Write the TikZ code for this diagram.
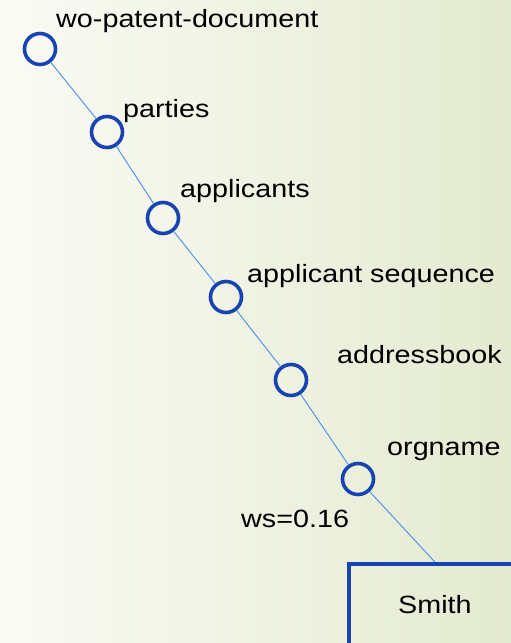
\documentclass[tikz,border=0pt]{standalone}
\usepackage{fontspec}
\setmainfont{Liberation Sans}[FakeStretch=1.15]
\definecolor{bgL}{RGB}{250,251,245}
\definecolor{bgR}{RGB}{228,234,208}
\definecolor{ringblue}{RGB}{24,68,178}
\definecolor{linkblue}{RGB}{72,140,238}
\tikzset{
  ring/.style={circle, draw=ringblue, line width=3.6pt, minimum size=31pt, inner sep=0pt},
  lbl/.style={anchor=west, inner sep=0pt, font=\fontsize{25}{28}\selectfont},
  link/.style={draw=linkblue, line width=0.9pt},
  leafbox/.style={draw=ringblue, line width=3.8pt, anchor=north west,
    minimum width=172pt, minimum height=84pt, inner sep=0pt,
    font=\fontsize{25}{28}\selectfont}
}
\begin{document}
\begin{tikzpicture}[x=1pt, y=-1pt]
  \useasboundingbox (0,0) rectangle (511,643);
  \shade[left color=bgL, right color=bgR] (0,0) rectangle (511,643);

  % chain of element nodes
  \node[ring] (n1) at (40,49) {};
  \node[ring] (n2) at (107,132) {};
  \node[ring] (n3) at (163,218) {};
  \node[ring] (n4) at (226,297) {};
  \node[ring] (n5) at (291,380) {};
  \node[ring] (n6) at (358,479) {};

  % element names
  \node[lbl] (t1) at (56,21) {wo-patent-document};
  \node[lbl] (t2) at (123,111) {parties};
  \node[lbl] (t3) at (180,191) {applicants};
  \node[lbl] (t4) at (247,276) {applicant sequence};
  \node[lbl] (t5) at (337,355) {addressbook};
  \node[lbl] (t6) at (387,451) {orgname};
  \node[lbl] (ws) at (241,519) {ws=0.16};

  % leaf value
  \begin{scope}
    \clip (0,0) rectangle (511,643);
    \node[leafbox] (leaf) at (347,562) {\raisebox{3pt}{Smith}};
  \end{scope}

  % links
  \draw[link] (n1) -- (n2);
  \draw[link] (n2) -- (n3);
  \draw[link] (n3) -- (n4);
  \draw[link] (n4) -- (n5);
  \draw[link] (n5) -- (n6);
  \draw[link] (n6) -- (leaf.north);
\end{tikzpicture}
\end{document}
